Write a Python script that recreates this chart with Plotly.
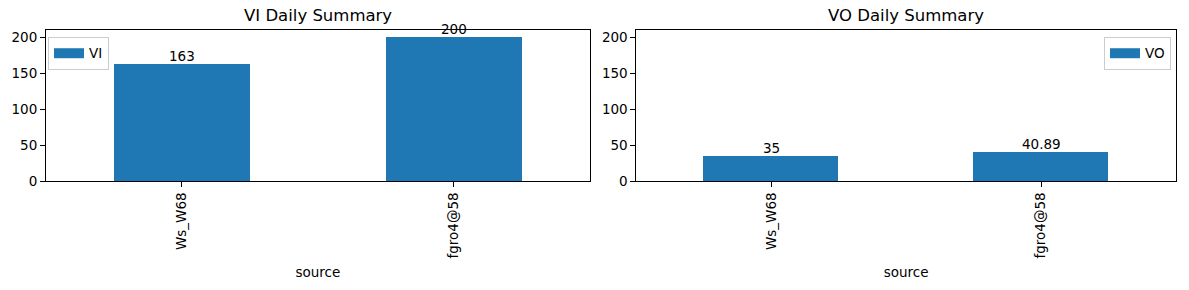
import plotly.graph_objects as go

categories = ["Ws_W68", "fgro4@58"]
vi_values = [163, 200]
vo_values = [35, 40.89]
vi_labels = ["163", "200"]
vo_labels = ["35", "40.89"]
y_ticks = [0, 50, 100, 150, 200]

BLUE = "#1f77b4"
FONT = "DejaVu Sans"
FS = 13.5
fig = go.Figure()

L, R, T, B = 41, 13, 30, 108
W, H = 1189, 290
pw = W - L - R
d1 = [0, (587 - L) / pw]
d2 = [(634 - L) / pw, 1]
pos = list(range(len(categories)))

for vals, name, xa, ya, lg in [(vi_values, "VI", "x", "y", "legend"), (vo_values, "VO", "x2", "y2", "legend2")]:
    fig.add_trace(go.Bar(x=pos, y=vals, width=0.5, name=name, marker=dict(color=BLUE, line=dict(width=0)),
                         showlegend=False, xaxis=xa, yaxis=ya))
    fig.add_trace(go.Scatter(x=[None], y=[None], mode="lines", name=name, line=dict(color=BLUE, width=10),
                             showlegend=True, legend=lg, xaxis=xa, yaxis=ya))

annotations = []
for vals, labels, xa, ya in [(vi_values, vi_labels, "x", "y"), (vo_values, vo_labels, "x2", "y2")]:
    for p, v, t in zip(pos, vals, labels):
        annotations.append(dict(text=t, x=p, y=v, xref=xa, yref=ya, xanchor="center", yanchor="bottom",
                                showarrow=False, yshift=-2, font=dict(size=FS, family=FONT, color="black")))

axcommon = dict(showgrid=False, zeroline=False, showline=True, linecolor="black", linewidth=1, mirror=True,
                ticks="outside", ticklen=5, tickwidth=1, tickcolor="black",
                tickfont=dict(size=FS, color="black", family=FONT))
xcommon = dict(axcommon, tickmode="array", tickvals=pos, ticktext=categories, range=[-0.5, 1.5],
               tickangle=-90, title=dict(text="source", font=dict(size=FS, color="black", family=FONT), standoff=10))
ycommon = dict(axcommon, range=[0, 210], tickmode="array", tickvals=y_ticks)

for title, d in [("VI Daily Summary", d1), ("VO Daily Summary", d2)]:
    annotations.append(dict(text=title, x=(d[0] + d[1]) / 2, y=1, xref="paper", yref="paper",
                            xanchor="center", yanchor="bottom", yshift=3, showarrow=False,
                            font=dict(size=16.5, family=FONT, color="black")))

legfont = dict(size=FS, family=FONT, color="black")
fig.update_layout(
    width=W, height=H, margin=dict(l=L, r=R, t=T, b=B),
    paper_bgcolor="white", plot_bgcolor="white", showlegend=True,
    font=dict(family=FONT, color="black", size=FS),
    xaxis=dict(xcommon, domain=d1, anchor="y"),
    yaxis=dict(ycommon, domain=[0, 1], anchor="x"),
    xaxis2=dict(xcommon, domain=d2, anchor="y2"),
    yaxis2=dict(ycommon, domain=[0, 1], anchor="x2"),
    legend=dict(x=(43 - L) / pw, y=1 - (37 - T) / (H - T - B), xanchor="left", yanchor="top",
                bgcolor="rgba(255,255,255,0.8)", bordercolor="#cccccc", borderwidth=1, font=legfont,
                itemwidth=30, tracegroupgap=0),
    legend2=dict(x=(1171 - L) / pw, y=1 - (37 - T) / (H - T - B), xanchor="right", yanchor="top",
                 bgcolor="rgba(255,255,255,0.8)", bordercolor="#cccccc", borderwidth=1, font=legfont,
                 itemwidth=30, tracegroupgap=0),
    annotations=annotations,
    bargap=0,
)

fig.write_html("out.html")
